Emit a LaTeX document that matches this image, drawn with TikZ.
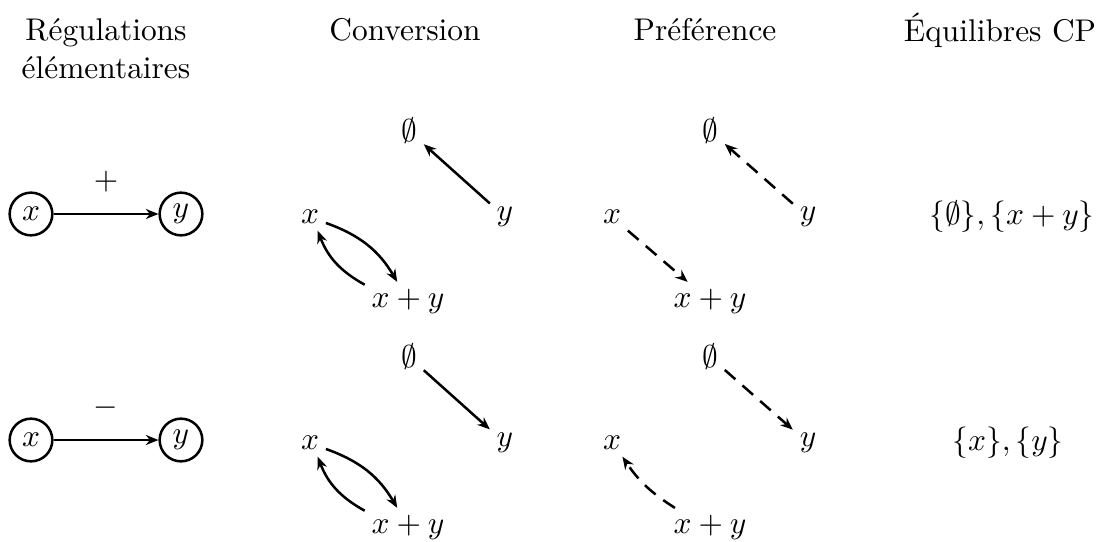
\documentclass[tikz,border=0pt]{standalone}
\usetikzlibrary{arrows.meta}
\begin{document}
\begin{tikzpicture}[x=0.3185pt,y=-0.3185pt,
  every node/.style={inner sep=2pt},
  ttl/.style={inner sep=3.33pt},
  reg/.style={draw,circle,thick,minimum size=13.6pt,inner sep=1pt},
  arr/.style={thick,-{Stealth[length=4pt,width=3.2pt,inset=1.3pt]}},
  darr/.style={arr,dash pattern=on 4.5pt off 3pt}]
\useasboundingbox (0,0) rectangle (1110,542);
% titles
\node[ttl,align=center] (t1) at (106,49) {Régulations\\élémentaires};
\node[ttl] (t2) at (405,30) {Conversion};
\node[ttl] (t3) at (705,30) {Préférence};
\node[ttl] (t4) at (1000,30) {Équilibres CP};
% row 1 regulation
\node[reg] (ax) at (31,214) {$x$};
\node[reg] (ay) at (181,214) {$y$};
\draw[arr] (ax) -- node[above=4.5pt] {$+$} (ay);
% row 2 regulation
\node[reg] (bx) at (31,440) {$x$};
\node[reg] (by) at (181,440) {$y$};
\draw[arr] (bx) -- node[above=4.5pt] {$-$} (by);
% conversion row 1
\node (c1e) at (409,131) {$\emptyset$};
\node (c1x) at (310,217) {$x$};
\node (c1y) at (505,217) {$y$};
\node (c1s) at (408,301) {$x+y$};
\draw[arr] (c1y) -- (c1e);
\draw[arr] (c1x) to[bend left=20] (c1s);
\draw[arr] (c1s) to[bend left=20] (c1x);
% conversion row 2
\node (c2e) at (409,357) {$\emptyset$};
\node (c2x) at (310,443) {$x$};
\node (c2y) at (505,443) {$y$};
\node (c2s) at (408,527) {$x+y$};
\draw[arr] (c2e) -- (c2y);
\draw[arr] (c2x) to[bend left=20] (c2s);
\draw[arr] (c2s) to[bend left=20] (c2x);
% preference row 1
\node (p1e) at (710,131) {$\emptyset$};
\node (p1x) at (612,217) {$x$};
\node (p1y) at (808,217) {$y$};
\node (p1s) at (710,301) {$x+y$};
\draw[darr] (p1y) -- (p1e);
\draw[darr] (p1x) -- (p1s);
% preference row 2
\node (p2e) at (710,357) {$\emptyset$};
\node (p2x) at (612,443) {$x$};
\node (p2y) at (808,443) {$y$};
\node (p2s) at (710,527) {$x+y$};
\draw[darr] (p2e) -- (p2y);
\draw[darr] (p2s) to[bend left=12] (p2x);
% equilibria
\node (e1) at (1012,217) {$\{\emptyset\}, \{x+y\}$};
\node (e2) at (1008,443) {$\{x\}, \{y\}$};
\end{tikzpicture}
\end{document}
